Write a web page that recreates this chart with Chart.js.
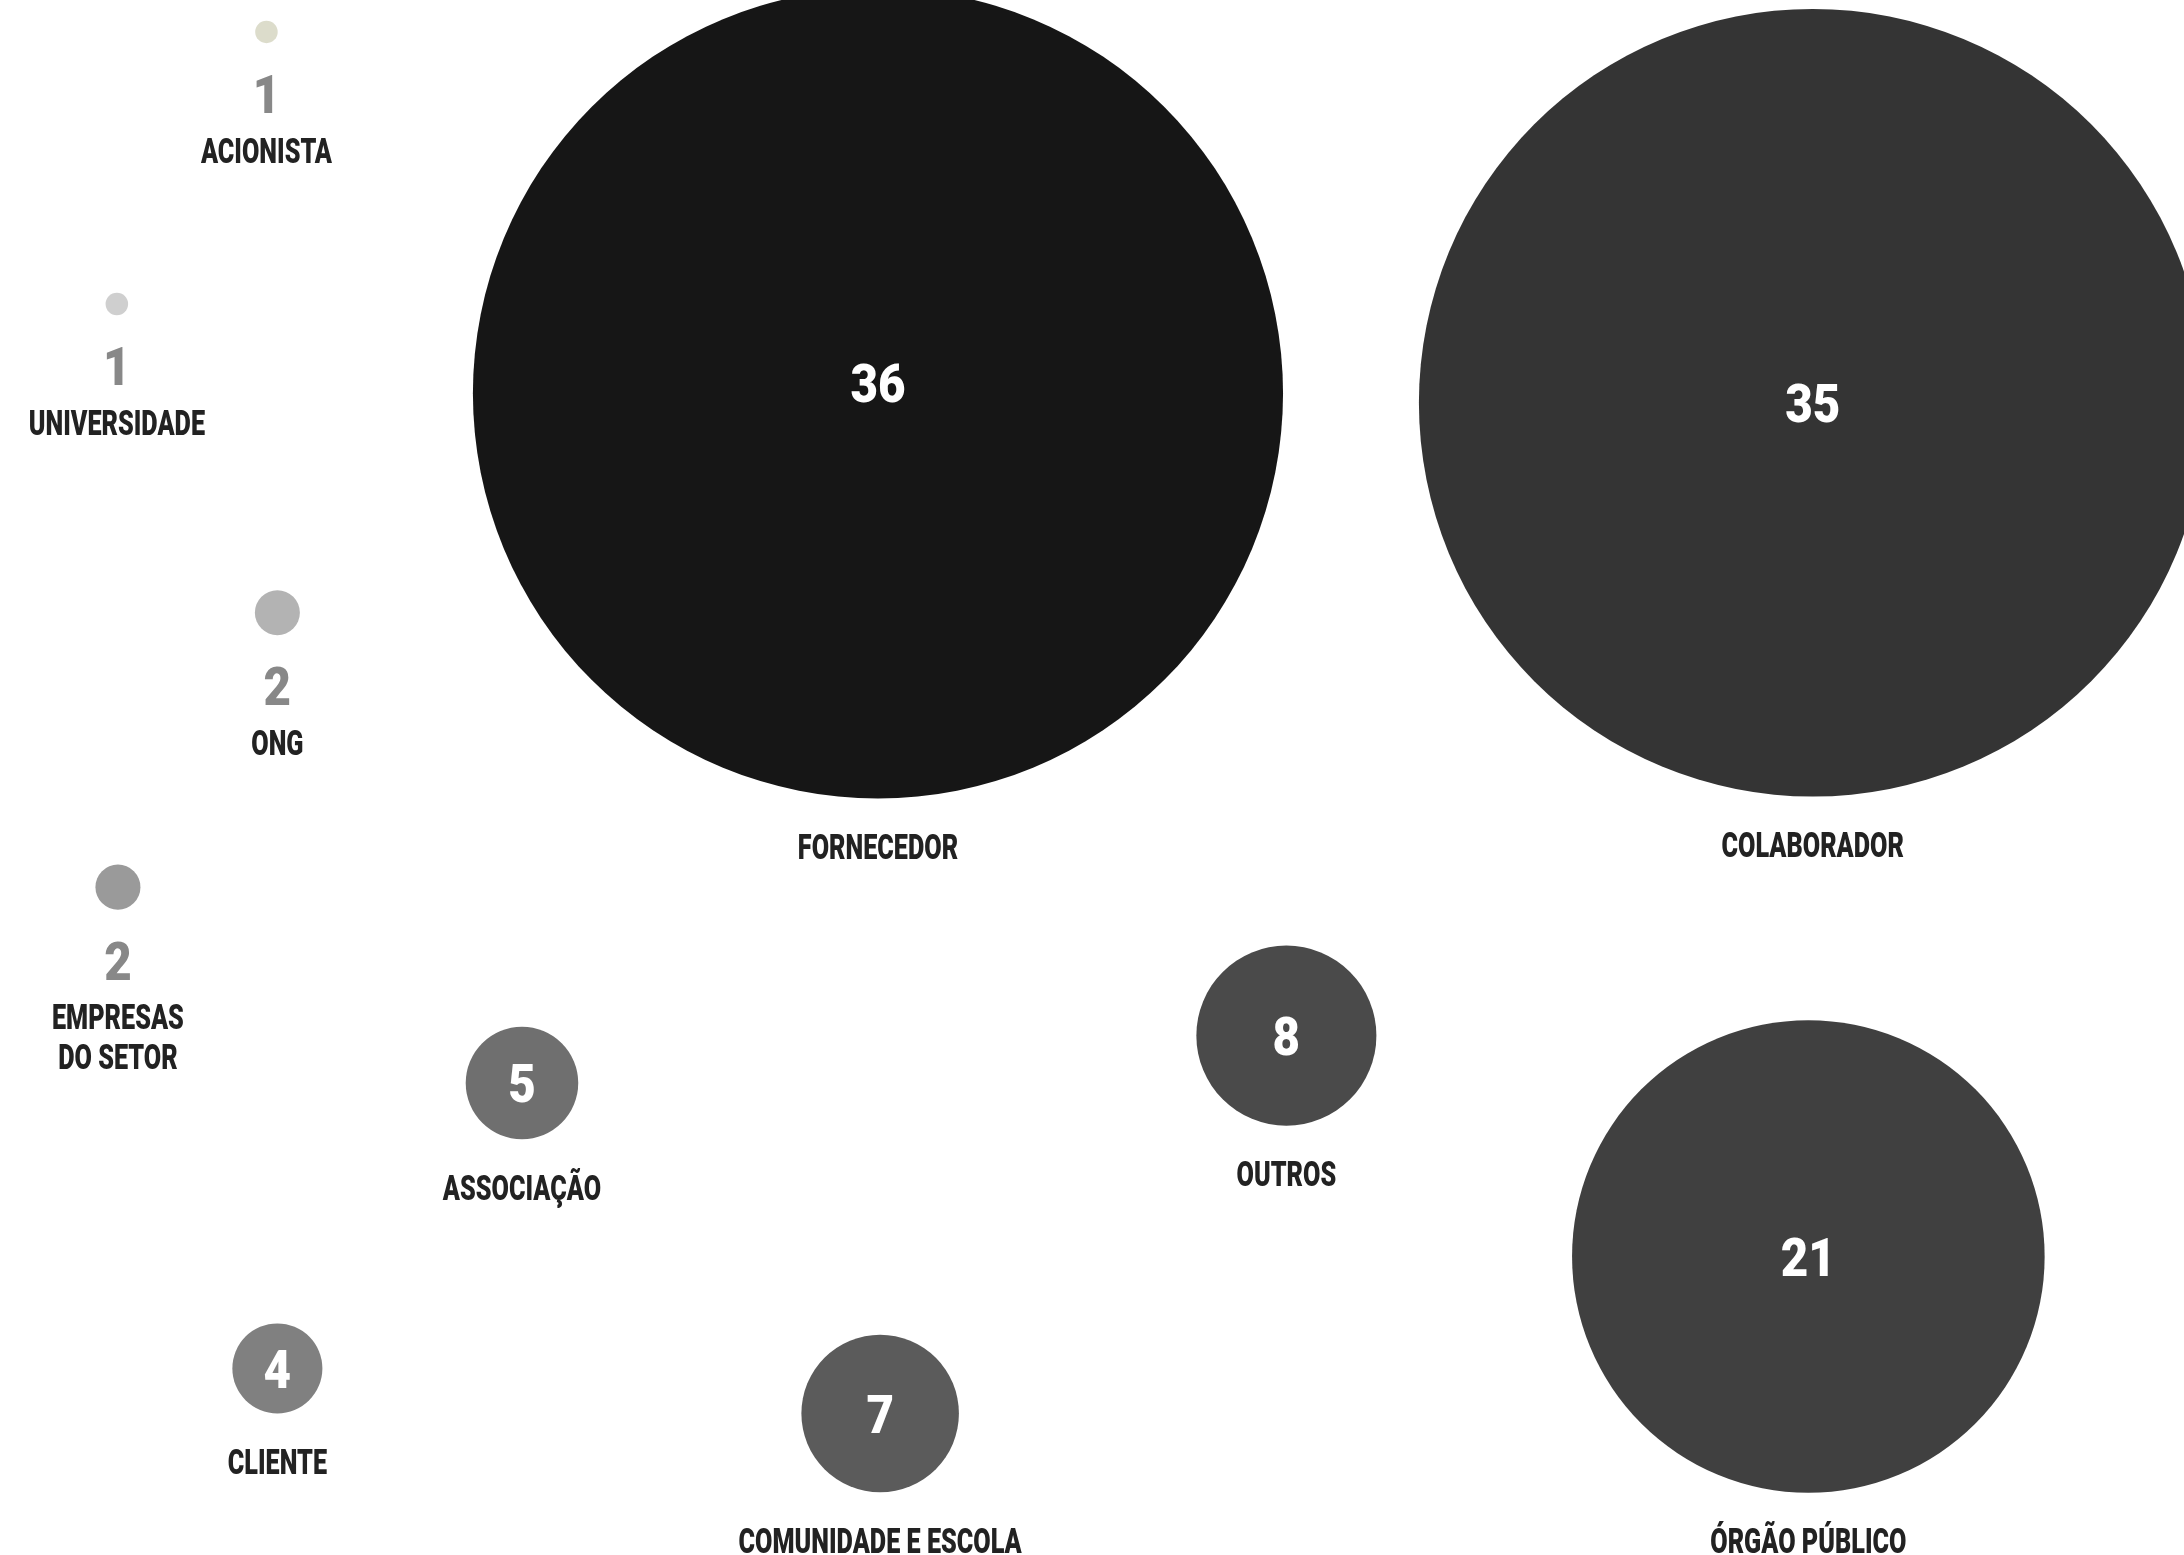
<!DOCTYPE html>
<html>
<head>
<meta charset="utf-8">
<script src="https://cdn.jsdelivr.net/npm/chart.js@4.4.1/dist/chart.umd.min.js"></script>
<style>
    html, body { margin: 0; padding: 0; background: #fff; overflow: hidden; }
    #wrap { width: 2184px; height: 1555px; position: relative; }
</style>
</head>
<body>
<div id="wrap"><canvas id="chart"></canvas></div>
<script>
// Data
const categories = ['ACIONISTA', 'UNIVERSIDADE', 'ONG', 'EMPRESAS\nDO SETOR', 'ASSOCIAÇÃO', 'CLIENTE',
    'COMUNIDADE E ESCOLA', 'OUTROS', 'ÓRGÃO PÚBLICO', 'FORNECEDOR', 'COLABORADOR'];
const counts = [1, 1, 2, 2, 5, 4, 7, 8, 21, 36, 35];
// layout of the packed bubbles (percent of width / height)
const posX = [12.2, 5.35, 12.7, 5.4, 23.9, 12.7, 40.3, 58.9, 82.8, 40.2, 83.0];
const posY = [2.05, 19.55, 39.4, 57.05, 69.65, 88.0, 90.9, 66.6, 80.8, 25.3, 25.9];
const colors = ['#dcdccb', '#cfcfcf', '#b3b3b3', '#9a9a9a', '#6f6f6f', '#808080',
    '#5b5b5b', '#4a4a4a', '#404040', '#161616', '#343434'];

const FONT = '"Roboto", "DejaVu Sans", sans-serif';

// draw squeezed text, y = vertical centre of the capitals
const drawText = (ctx, text, x, y, size, color, sx) => {
    ctx.save();
    ctx.font = `900 ${size}px ${FONT}`;
    ctx.fillStyle = color;
    ctx.textAlign = 'center';
    ctx.textBaseline = 'alphabetic';
    ctx.translate(x, y + size * 0.711 / 2);
    ctx.scale(sx, 1);
    ctx.fillText(text, 0, 0);
    ctx.restore();
};

const labelPlugin = {
    id: 'bubbleLabels',
    afterDatasetsDraw(chart, args, opts) {
        const ctx = chart.ctx;
        const meta = chart.getDatasetMeta(0);
        meta.data.forEach((el, i) => {
            const v = counts[i];
            const r = el.options.radius;
            const lines = categories[i].split('\n');
            let labelY;
            if (v <= opts.smallMax) {
                const numY = el.y + r + 51;
                drawText(ctx, String(v), el.x, numY, 54, '#888888', 0.88);
                labelY = numY + 56;
            } else {
                drawText(ctx, String(v), el.x, el.y + (opts.numShift[i] || 0), 54, '#ffffff', 0.88);
                labelY = el.y + r + 48;
            }
            lines.forEach((ln, k) => {
                drawText(ctx, ln, el.x, labelY + k * 40, 35, '#222222', 0.72);
            });
        });
    }
};

const points = counts.map((v, i) => ({ x: posX[i], y: posY[i], v }));

new Chart(document.getElementById('chart'), {
    type: 'bubble',
    data: {
        labels: categories,
        datasets: [{
            data: points,
            backgroundColor: colors,
            borderWidth: 0,
            radius: (c) => c.raw ? c.raw.v * c.chart.width / 194.1 : 0,
            hoverRadius: 0
        }]
    },
    options: {
        responsive: true,
        maintainAspectRatio: false,
        animation: false,
        events: [],
        layout: { padding: 0, autoPadding: false },
        plugins: {
            legend: { display: false },
            tooltip: { enabled: false },
            bubbleLabels: { smallMax: 2, numShift: { 9: -11 } }
        },
        scales: {
            x: { type: 'linear', min: 0, max: 100, display: false },
            y: { type: 'linear', min: 0, max: 100, reverse: true, display: false }
        }
    },
    plugins: [labelPlugin]
});
</script>
</body>
</html>
